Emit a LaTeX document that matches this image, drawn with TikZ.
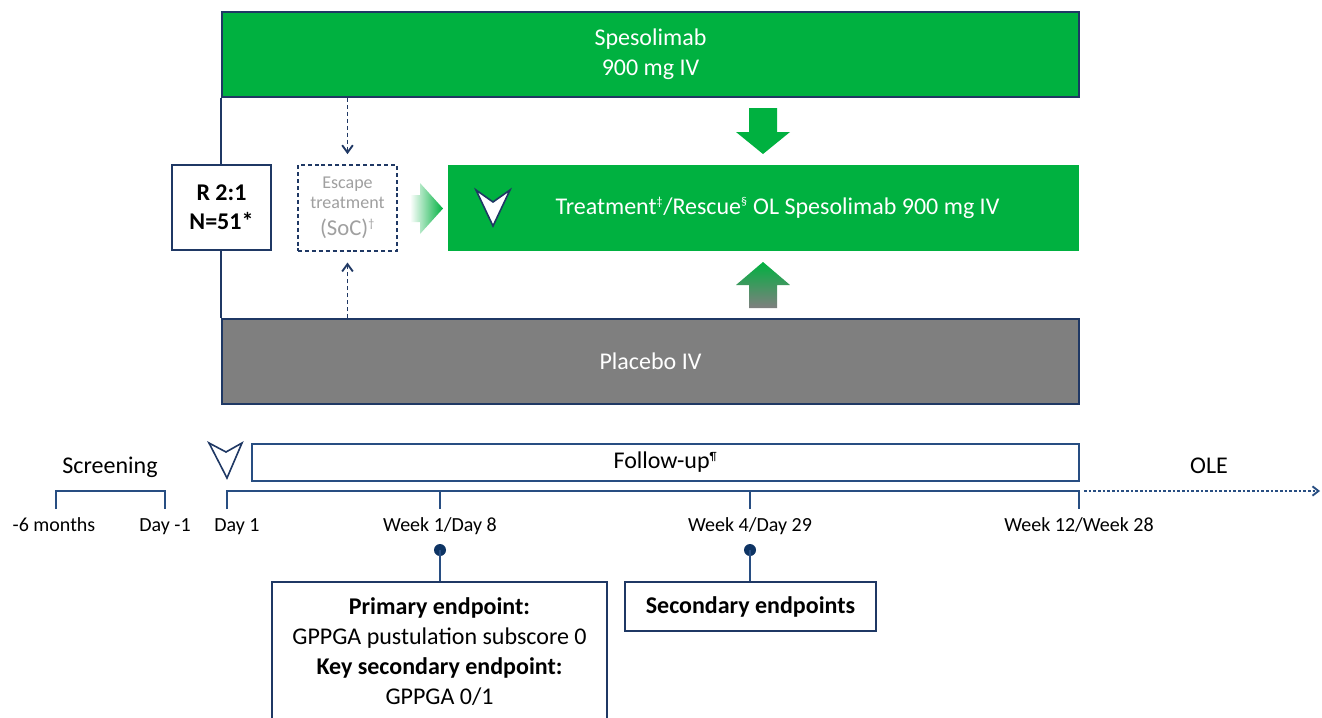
\documentclass[tikz,border=0pt]{standalone}
\usepackage{fontspec}
\setmainfont{Carlito}
\usetikzlibrary{arrows.meta}
\definecolor{sgreen}{RGB}{0,177,64}
\definecolor{navy}{RGB}{31,56,100}
\definecolor{lblue}{RGB}{40,78,130}
\definecolor{pgray}{RGB}{127,127,127}
\definecolor{egray}{RGB}{160,160,160}
\definecolor{dotblue}{RGB}{14,52,100}
\begin{document}
\begin{tikzpicture}[x=0.75pt,y=-0.75pt,
  arm/.style={draw=navy,line width=1.6pt,minimum width=642.75pt,minimum height=63.75pt,inner sep=0pt,text=white,align=center,font=\fontsize{18}{22.5}\selectfont},
  wbox/.style={draw=navy,line width=1.4pt,fill=white,align=center,inner sep=0pt},
  tl/.style={draw=lblue,line width=1.1pt},
  lab/.style={font=\fontsize{15}{18}\selectfont,anchor=base,inner sep=0pt},
  big/.style={font=\fontsize{18}{22}\selectfont},
  escarrow/.style={draw=navy,line width=1.4pt,dash pattern=on 3pt off 2.2pt,-{Straight Barb[length=5.5pt,width=8pt]}},
  dotnode/.style={circle,fill=dotblue,inner sep=0pt,minimum size=9pt},
  tri/.style={draw=navy,line width=1.2pt,line join=miter},
  smallsup/.style={},
]
\fill[white] (0,0) rectangle (1322,718);
\useasboundingbox (0,0) rectangle (1322,718);

% arms
\node[arm,fill=sgreen] (spes) at (650.5,54.5) {Spesolimab\\900 mg IV};
\node[arm,fill=pgray] (plac) at (650.5,361.5) {Placebo IV};
\draw[navy,line width=1.6pt] (spes.south west) -- (plac.north west);

% randomisation
\node[wbox,minimum width=74.25pt,minimum height=63.75pt,font=\bfseries\fontsize{18}{22}\selectfont] (rand) at (221.5,207.5) {R 2:1\\N=51*};

% escape treatment
\node[draw=navy,line width=1.3pt,dash pattern=on 3pt off 2.2pt,minimum width=74.25pt,minimum height=64.5pt,text=egray,align=center,inner sep=0pt,font=\fontsize{13.5}{14.5}\selectfont] (esc) at (347.5,208) {Escape\\treatment\\[6pt]{\fontsize{17}{17}\selectfont (SoC)\textsuperscript{\fontsize{9}{9}\selectfont †}}};
\draw[escarrow] (esc.north |- spes.south) -- ([yshift=7.5pt]esc.north);
\draw[escarrow] (esc.south |- plac.north) -- ([yshift=-8pt]esc.south);

% gradient arrow to treatment
\shade[left color=white,right color=sgreen] (410,195) -- (420,195) -- (420,183) -- (443,208.5) -- (420,234) -- (420,222) -- (410,222) -- cycle;

% treatment box
\node[fill=sgreen,minimum width=473.25pt,minimum height=64.5pt,inner sep=0pt] (treat) at (763.5,208) {};
\node[text=white,font=\fontsize{18}{22}\selectfont] (treattxt) at (777.5,208) {Treatment\textsuperscript{\fontsize{9}{9}\selectfont ‡}/Rescue\textsuperscript{\fontsize{9}{9}\selectfont §} OL Spesolimab 900 mg IV};
\filldraw[tri,fill=white] (476,190) -- (493,202) -- (510,190) -- (493,226) -- cycle;

% block arrows
\fill[sgreen] (749,108) -- (777,108) -- (777,132) -- (790,132) -- (763,154) -- (736,132) -- (749,132) -- cycle;
\shade[top color=sgreen,middle color=sgreen,bottom color=pgray] (749,308) -- (777,308) -- (777,285) -- (790,285) -- (763,262) -- (736,285) -- (749,285) -- cycle;

% timeline
\node[draw=lblue,line width=1.1pt,minimum width=620.25pt,minimum height=27.75pt,inner sep=0pt,big] (fu) at (665.5,462.5) {Follow-up\textsuperscript{\fontsize{9}{9}\selectfont ¶}};
\draw[tri] (209,443) -- (226,452) -- (242,443) -- (227,478) -- cycle;
\node[big,anchor=base,inner sep=0pt] (scr) at (110,473) {Screening};
\node[big,anchor=base,inner sep=0pt] (ole) at (1209,473) {OLE};

\draw[tl] (56,509) -- (56,491) -- (165,491) -- (165,509);
\draw[tl] (227,509) -- (227,491) -- (1079,491) -- (1079,509);
\draw[tl] (440,491) -- (440,509);
\draw[tl] (750,491) -- (750,509);
\draw[lblue,line width=1.4pt,dash pattern=on 2pt off 1.5pt,-{Straight Barb[length=4.5pt,width=7pt]}] (1084,491) -- (1320,491);

\node[lab] (l0) at (54,531) {-6 months};
\node[lab] (l1) at (165,531) {Day -1};
\node[lab] (l2) at (237,531) {Day 1};
\node[lab] (l3) at (440,531) {Week 1/Day 8};
\node[lab] (l4) at (750,531) {Week 4/Day 29};
\node[lab] (l5) at (1079,531) {Week 12/Week 28};

% endpoints
\node[wbox,minimum width=251.25pt,minimum height=105pt,font=\fontsize{18}{22.5}\selectfont] (prim) at (439.5,652) {\textbf{Primary endpoint:}\\GPPGA pustulation subscore 0\\\textbf{Key secondary endpoint:}\\GPPGA 0/1};
\node[wbox,minimum width=188.25pt,minimum height=36.75pt,font=\bfseries\fontsize{18}{22}\selectfont] (sec) at (750.5,606.5) {Secondary endpoints};

\node[dotnode] (d1) at (440,550) {};
\node[dotnode] (d2) at (750,550) {};
\draw[lblue,line width=1.3pt] (d1.center) -- (d1 |- prim.north);
\draw[lblue,line width=1.3pt] (d2.center) -- (d2 |- sec.north);
\end{tikzpicture}
\end{document}
